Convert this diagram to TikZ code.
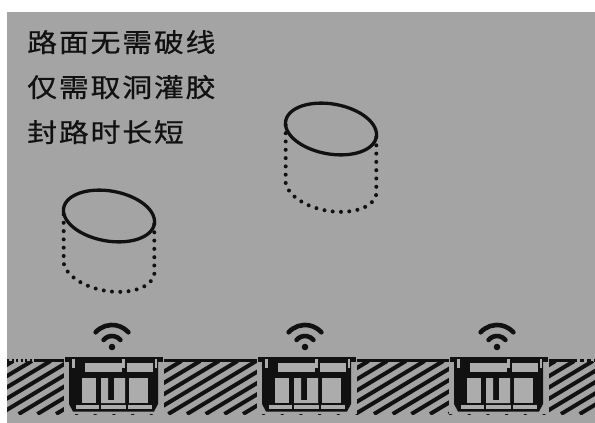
\documentclass[tikz,border=0pt]{standalone}
\usepackage{fontspec}
\newfontfamily\cjkfont[LetterSpace=6,FakeBold=0.6]{Noto Sans CJK SC}
\definecolor{bg}{HTML}{A4A4A4}
\definecolor{lite}{HTML}{ACACAC}
\definecolor{ink}{HTML}{111111}
\newcommand{\drawcan}[3]{%
  % top rim (tilted ellipse) and dotted hidden wall, centre (#1,#2), wall height #3
  \draw[rim] plot[domain=0:360, samples=120, smooth]
    ({#1+46*cos(\x)*cos(10)-25*sin(\x)*sin(10)},{#2+46*cos(\x)*sin(10)+25*sin(\x)*cos(10)}) -- cycle;
  \draw[dotwall] ({#1+46*cos(10)},{#2+46*sin(10)})
    -- plot[domain=0:180, samples=80]
    ({#1+46*cos(\x)*cos(10)-25*sin(\x)*sin(10)},{#2+#3+46*cos(\x)*sin(10)+25*sin(\x)*cos(10)})
    -- ({#1-46*cos(10)},{#2-46*sin(10)});
}
\begin{document}
\begin{tikzpicture}[x=1pt,y=-1pt,
  rim/.style={ink, line width=3.3pt},
  dotwall/.style={ink, line width=4pt, line cap=round, dash pattern=on 0pt off 8.3pt},
  hatchline/.style={ink, line width=4pt},
  groundline/.style={ink, line width=3pt},
  wave/.style={ink, line width=4.6pt, line cap=round},
  label/.style={anchor=base west, inner sep=0pt, text=ink, font=\cjkfont\fontsize{26pt}{30pt}\selectfont},
  sensor/.pic={
    \fill[bg] (-1,356) rectangle (99,413.5);
    % flange and housing
    \fill[ink] (0,357) rectangle (98,362);
    \fill[ink] (4,361) -- (93,361) -- (93,404) -- (89,411.5) -- (8,411.5) -- (4,404) -- cycle;
    % upper windows and slits
    \fill[lite] (20,363) rectangle (57,372);
    \fill[lite] (62,363) rectangle (88,372);
    \fill[lite] (57.3,359.3) rectangle (59.8,368);
    \fill[lite] (7,359.3) rectangle (9.5,368);
    \fill[lite] (89.5,359.3) rectangle (91.5,368);
    % lower chambers
    \fill[lite] (17,378) rectangle (31,403);
    \fill[lite] (36,378) -- (43,378) -- (43,400) -- (49,400) -- (49,378) -- (60,378) -- (60,403) -- (36,403) -- cycle;
    \fill[lite] (64,378) rectangle (83,403);
    \fill[lite] (11,405) rectangle (87,409);
    \fill[ink] (34,404) rectangle (35.5,410);
    \fill[ink] (61,404) rectangle (62.5,410);
  },
  signal/.pic={
    \fill[ink] (0,0) circle[radius=3.3];
    \draw[wave] (220:11) arc[start angle=220, end angle=320, radius=11];
    \draw[wave] (222:22) arc[start angle=222, end angle=318, radius=22];
  }
]
\useasboundingbox (0,0) rectangle (595,423);
\fill[white] (0,0) rectangle (595,423);
\fill[bg] (7,12) rectangle (595,423);

% caption lines
\node[label] (t1) at (27,52) {\scalebox{1.15}[1]{路面无需破线}};
\node[label] (t2) at (27,97) {\scalebox{1.15}[1]{仅需取洞灌胶}};
\node[label] (t3) at (27,142) {\scalebox{1.15}[1]{封路时长短}};

% cored holes
\drawcan{109}{216}{50}
\drawcan{331}{129}{57}

% hatched road section
\begin{scope}
  \clip (7,361.5) rectangle (595,414);
  \foreach \k in {-6,...,32} {
    \draw[hatchline] ({\k*18.7},414) -- ++(88,-53);
  }
\end{scope}

% road surface
\coordinate (g0) at (7,360);
\coordinate (g1) at (34,360);
\coordinate (g2) at (573,360);
\coordinate (g3) at (595,360);
\draw[groundline, dash pattern=on 2pt off 2.5pt] (g0) -- (g1);
\draw[groundline] (g1) -- (g2);
\draw[groundline, dash pattern=on 4pt off 3pt] (g2) -- (g3);

% embedded sensors with wireless signal
\pic at (65,0) {sensor};
\pic at (258,0) {sensor};
\pic at (450,0) {sensor};
\pic at (112,347) {signal};
\pic at (305,347) {signal};
\pic at (497,347) {signal};
\end{tikzpicture}
\end{document}
